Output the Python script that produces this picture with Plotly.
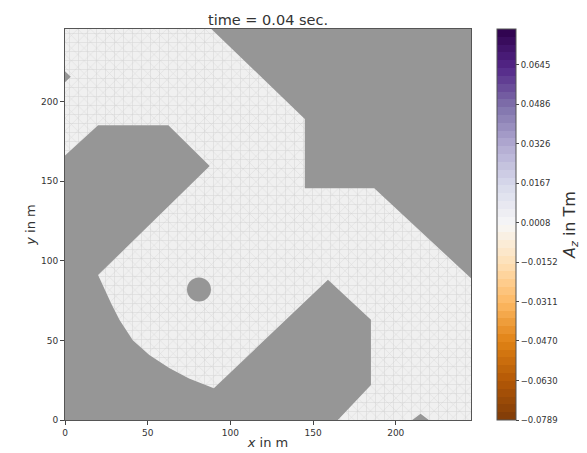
import plotly.graph_objects as go
from plotly.colors import sample_colorscale

# Outline of the meshed region (x, y in m)
region_x = [0, 88.5, 145, 145, 187, 245.5, 245.5, 220, 215, 210, 165, 185, 185, 159,
            90, 75, 63, 51, 41, 33, 28, 20, 87.5, 62.5, 20, 0, 0, 3.5, 0, 0]
region_y = [245.5, 245.5, 189, 145.5, 145.5, 89, 0, 0, 4, 0, 0, 22, 63, 88,
            20, 26, 32.6, 40.8, 50, 62.8, 73, 91, 159.5, 185, 185, 166, 212, 215.5, 219, 245.5]
hole_x = [81]
hole_y = [82]

x_ticks = [0, 50, 100, 150, 200]
y_ticks = [0, 50, 100, 150, 200]
cbar_vals = [-0.0789, -0.0630, -0.0470, -0.0311, -0.0152, 0.0008, 0.0167, 0.0326, 0.0486, 0.0645]
cbar_text = ["\u22120.0789", "\u22120.0630", "\u22120.0470", "\u22120.0311", "\u22120.0152",
             "0.0008", "0.0167", "0.0326", "0.0486", "0.0645"]
cbar_min = -0.0789
cbar_max = 0.0789
cbar_bands = 50

GRAY = "#969696"
FONT = "DejaVu Sans"
TEXT = "#333333"

band_cols = sample_colorscale("PuOr", [(i + 0.5) / cbar_bands for i in range(cbar_bands)])
stepped = []
for i, c in enumerate(band_cols):
    stepped += [[i / cbar_bands, c], [(i + 1) / cbar_bands, c]]

fig = go.Figure()
fig.add_trace(go.Scatter(
    x=region_x, y=region_y, mode="lines", fill="toself", line=dict(width=0),
    fillcolor="#eeeeee", showlegend=False,
    fillpattern=dict(shape="+", size=9, solidity=0.1, fgcolor="#b8b8b8", bgcolor="#f0f0f0"),
))
fig.add_trace(go.Scatter(
    x=region_x, y=region_y, mode="lines", fill="toself", line=dict(width=0),
    fillcolor="rgba(0,0,0,0)", showlegend=False,
    fillpattern=dict(shape="x", size=9, solidity=0.1, fgcolor="#c0c0c0", bgcolor="rgba(0,0,0,0)"),
))
fig.add_trace(go.Scatter(
    x=hole_x, y=hole_y, mode="markers", showlegend=False,
    marker=dict(size=24, color=GRAY, line=dict(width=0)),
))
# Colour bar carrier
fig.add_trace(go.Scatter(
    x=[None], y=[None], mode="markers", showlegend=False,
    marker=dict(
        color=[0], cmin=cbar_min, cmax=cbar_max, colorscale=stepped,
        colorbar=dict(
            x=(497 - 65) / 406, xanchor="left", xpad=0, y=0, yanchor="bottom", ypad=0, len=1, lenmode="fraction",
            thickness=19, thicknessmode="pixels", outlinecolor="#555555", outlinewidth=1,
            tickmode="array", tickvals=cbar_vals, ticktext=cbar_text,
            ticks="outside", ticklen=3, tickcolor="#444444",
            tickfont=dict(family=FONT, size=8.5, color=TEXT),
            title=dict(text="<i>A</i><sub><i>z</i></sub> in Tm", side="right",
                       font=dict(family=FONT, size=16, color=TEXT)),
        ),
    ),
))

axis = dict(range=[0, 245.5], showgrid=False, zeroline=False, ticks="outside", ticklen=4,
            tickcolor="#444444", showline=True, linecolor="#555555", linewidth=1, mirror=True,
            tickfont=dict(family=FONT, size=9, color=TEXT))
fig.update_layout(
    width=587, height=453, margin=dict(l=65, r=116, t=29, b=33, autoexpand=False),
    paper_bgcolor="white", plot_bgcolor=GRAY,
    title=dict(text="time = 0.04 sec.", x=(268) / 587, xanchor="center", y=1 - 20 / 453, yanchor="middle",
               font=dict(family=FONT, size=14.5, color=TEXT)),
    xaxis=dict(axis, tickvals=x_ticks, title=dict(text="<i>x</i> in m", standoff=1,
                                                  font=dict(family=FONT, size=13, color=TEXT))),
    yaxis=dict(axis, tickvals=y_ticks, title=dict(text="<i>y</i> in m", standoff=2,
                                                  font=dict(family=FONT, size=13, color=TEXT))),
)
fig.write_html("out.html", post_script="document.body.style.margin='0';",
               config={"displayModeBar": False})
